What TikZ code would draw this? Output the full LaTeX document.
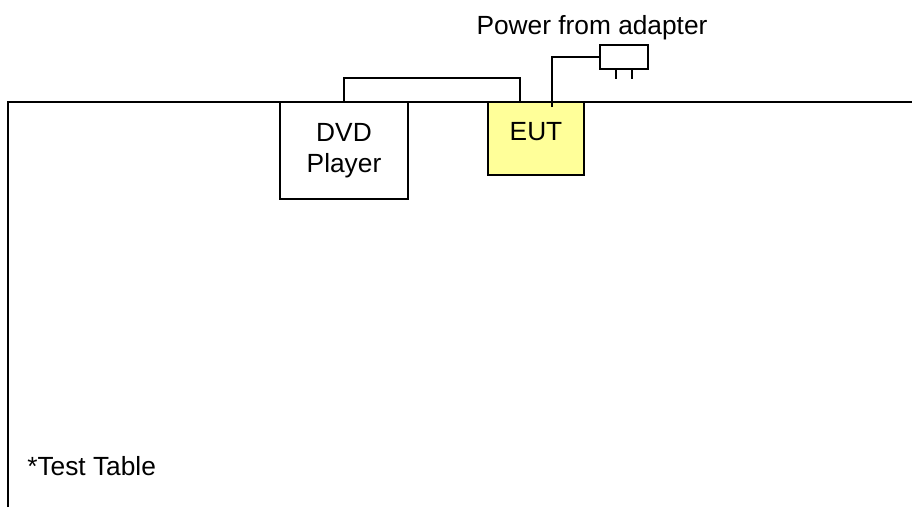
\documentclass[tikz,border=0pt]{standalone}
\usepackage{fontspec}
\setmainfont{Liberation Sans}
\usetikzlibrary{positioning}
\definecolor{eutyellow}{RGB}{255,255,153}
\tikzset{
    box/.style={rectangle, draw, line width=1.35pt, inner sep=0pt},
    lbl/.style={inner sep=0pt, font=\fontsize{18.7}{22}\selectfont},
    wire/.style={line width=1.35pt}
}

\begin{document}
\begin{tikzpicture}[x=0.025cm, y=-0.025cm]
  \useasboundingbox (0,0) rectangle (912,507);
  % test table edge
  \draw[wire] (8,507) -- (8,102) -- (912,102);
  \node[lbl, anchor=base west] (tbl) at (27,475) {*Test Table};
  % devices
  \node[box, fill=white, minimum width=3.2cm, minimum height=2.425cm, align=center,
        font=\fontsize{18.7}{22}\selectfont] (dvd) at (344,150.5) {DVD\\Player};
  \node[box, fill=eutyellow, minimum width=2.4cm, minimum height=1.825cm] (eut) at (536,138.5) {};
  \node[lbl, anchor=base] (eutlbl) at (536,140) {EUT};
  \node[box, minimum width=1.2cm, minimum height=0.6cm] (adapter) at (624,57) {};
  \draw[wire] ([xshift=-0.2cm]adapter.south) -- ++(0,9);
  \draw[wire] ([xshift=0.2cm]adapter.south) -- ++(0,9);
  \node[lbl, anchor=base] (pwr) at (592,34) {Power from adapter};
  % cables
  \coordinate (eutport) at (520,102);
  \coordinate (pwrin) at (552,107);
  \draw[wire] (dvd.north) -- ++(0,-23) -| (eutport);
  \draw[wire] (pwrin) |- (adapter.west);
\end{tikzpicture}
\end{document}
